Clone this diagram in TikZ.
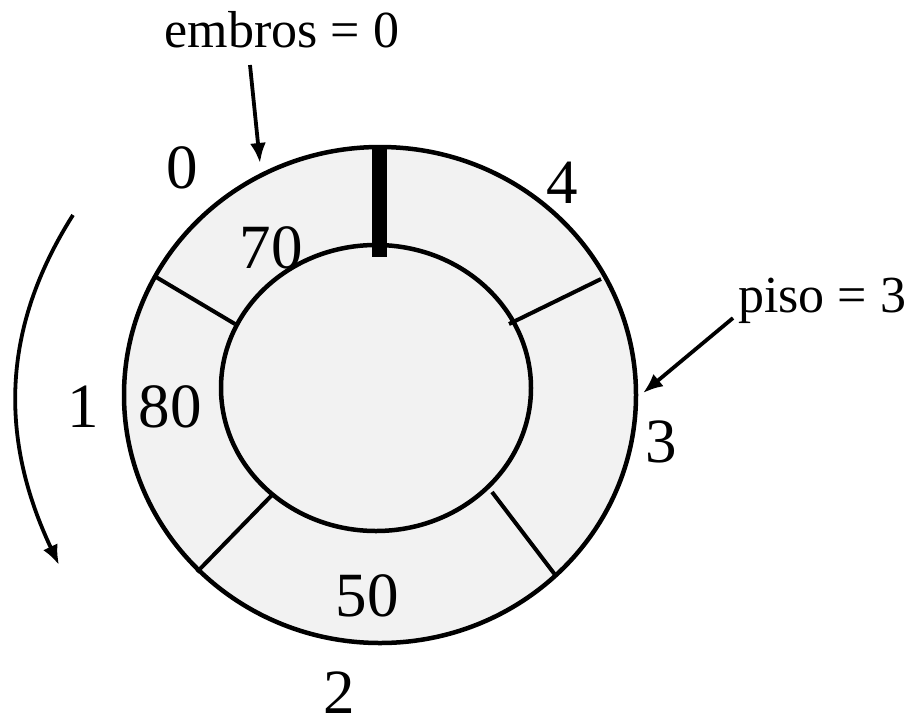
\documentclass[tikz,border=0pt]{standalone}
\usepackage{fontspec}
\setmainfont{Liberation Serif}
\usetikzlibrary{arrows.meta}
\begin{document}
\begin{tikzpicture}[x=1pt,y=-1pt,
  ring/.style={draw=black,line width=4.5pt,fill=black!5},
  divider/.style={draw=black,line width=4pt},
  bignum/.style={anchor=base,inner sep=0pt,font=\fontsize{63}{75}\selectfont},
  smalltxt/.style={anchor=base,inner sep=0pt,font=\fontsize{52}{62}\selectfont},
  pointer/.style={draw=black,line width=3.8pt,-{Latex[length=20pt,width=16pt]}}]
\useasboundingbox (0,0) rectangle (913,721);
% rings
\draw[ring] (380,395) ellipse [x radius=256pt, y radius=248pt];
\draw[ring] (376,388) ellipse [x radius=155pt, y radius=143pt];
% dividers
\coordinate (d1a) at (156,277); \coordinate (d1b) at (235,324);
\coordinate (d2a) at (601,279); \coordinate (d2b) at (509,324);
\coordinate (d3a) at (197,572); \coordinate (d3b) at (273,494);
\coordinate (d4a) at (556,576); \coordinate (d4b) at (492,492);
\draw[divider] (d1a) -- (d1b);
\draw[divider] (d2a) -- (d2b);
\draw[divider] (d3a) -- (d3b);
\draw[divider] (d4a) -- (d4b);
% thick marker
\coordinate (bara) at (379.5,145); \coordinate (barb) at (379.5,257);
\draw[line width=15pt] (bara) -- (barb);
% labels
\node[bignum] (n0) at (182.5,188) {0};
\node[bignum] (n4) at (562,203) {4};
\node[bignum] (n70) at (271,268) {70};
\node[bignum] (n80) at (170,427) {80};
\node[bignum] (n1) at (83,427) {1};
\node[bignum] (n3) at (661,462) {3};
\node[bignum] (n50) at (367,616) {50};
\node[bignum] (n2) at (339,713) {2};
\node[smalltxt] (emb) at (282,47) {embros = 0};
\node[smalltxt] (piso) at (822,312) {piso = 3};
% pointers
\coordinate (embs) at (250,65); \coordinate (embt) at (260,163);
\coordinate (pisos) at (733,318); \coordinate (pisot) at (643,393);
\draw[pointer] (embs) -- (embt);
\draw[pointer] (pisos) -- (pisot);
\coordinate (cs) at (73,215); \coordinate (ct) at (59,565);
\draw[pointer] (cs) .. controls (0,330) and (0,440) .. (ct);
\end{tikzpicture}
\end{document}
